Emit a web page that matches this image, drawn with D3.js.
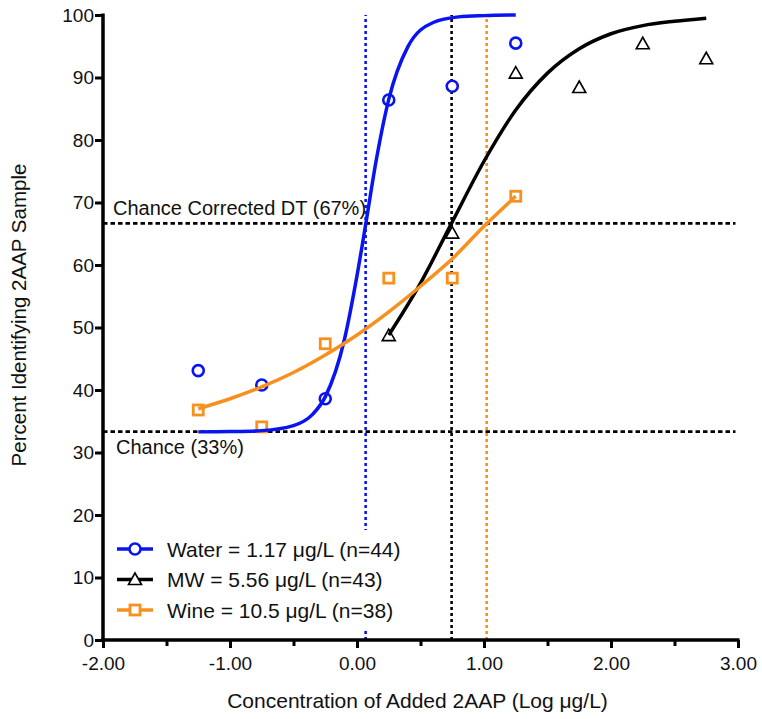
<!DOCTYPE html>
<html>
<head>
<meta charset="utf-8">
<script src="https://cdn.jsdelivr.net/npm/d3@7"></script>
<style>
  body { margin: 0; background: #fff; }
  text { font-family: Arial, "Liberation Sans", Helvetica, sans-serif; fill: #111; }
</style>
</head>
<body>
<div id="chart"></div>
<script>
// Observed points (x = log concentration, y = percent)
const doseX = [-1.25, -0.75, -0.25, 0.25, 0.75, 1.25];
const waterPct = [43.1, 40.8, 38.6, 86.4, 88.6, 95.5];
const winePct = [36.8, 34.1, 47.4, 57.9, 57.9, 71.0];
const mwX = [0.25, 0.75, 1.25, 1.75, 2.25, 2.75];
const mwPct = [48.7, 65.1, 90.7, 88.4, 95.4, 93.0];

// Fitted curves
const waterFitX = [-1.25, -1.0, -0.75, -0.5, -0.35, -0.25, -0.1, 0.0, 0.07, 0.15, 0.25, 0.4, 0.6, 0.8, 1.0, 1.25];
const waterFitY = [33.3, 33.35, 33.5, 34.3, 36.1, 38.9, 48.0, 58.3, 66.7, 76.6, 86.5, 94.9, 98.8, 99.7, 99.9, 100];
const mwFitX = [0.25, 0.5, 0.745, 1.0, 1.25, 1.5, 1.75, 2.0, 2.25, 2.5, 2.75];
const mwFitY = [48.8, 57.1, 66.7, 76.6, 84.8, 90.7, 94.6, 97.0, 98.3, 99.0, 99.5];
const wineFitX = [-1.25, -1.0, -0.75, -0.5, -0.25, 0.0, 0.25, 0.5, 0.75, 1.0, 1.25];
const wineFitY = [37.0, 38.6, 40.5, 42.8, 45.6, 48.8, 52.5, 56.6, 61.0, 66.2, 71.0];

// Threshold values (log) and chance levels
const thresholds = [0.068, 0.745, 1.021];
const chanceLevels = [33.33, 66.67];
const chanceLabels = ["Chance (33%)", "Chance Corrected DT (67%)"];

const xTicks = [-2, -1, 0, 1, 2, 3];
const xMinorTicks = [-1.5, -0.5, 0.5, 1.5, 2.5];
const yTicks = [0, 10, 20, 30, 40, 50, 60, 70, 80, 90, 100];

const seriesNames = ["Water = 1.17 μg/L (n=44)", "MW = 5.56 μg/L (n=43)", "Wine = 10.5 μg/L (n=38)"];
const seriesColors = ["#0a14f0", "#000000", "#f7901e"];
const seriesMarkers = ["circle", "triangle", "square"];

const width = 762, height = 719;
const margin = { top: 15, right: 24, bottom: 79, left: 103 };
const innerW = width - margin.left - margin.right;
const innerH = height - margin.top - margin.bottom;

const svg = d3.select("#chart").append("svg")
    .attr("width", width)
    .attr("height", height);

const g = svg.append("g")
    .attr("transform", `translate(${margin.left},${margin.top})`);

const xScale = d3.scaleLinear().domain([-2, 3]).range([0, innerW]);
const yScale = d3.scaleLinear().domain([0, 100]).range([innerH, 0]);

// Vertical threshold lines
g.selectAll(".thresh")
    .data(thresholds)
    .enter()
    .append("line")
    .attr("x1", d => xScale(d))
    .attr("x2", d => xScale(d))
    .attr("y1", yScale(0))
    .attr("y2", yScale(100))
    .attr("stroke", (d, i) => seriesColors[i])
    .attr("stroke-width", 2.6)
    .attr("stroke-dasharray", "3,3");

// Horizontal chance lines
g.selectAll(".chance")
    .data(chanceLevels)
    .enter()
    .append("line")
    .attr("x1", 0)
    .attr("x2", xScale(2.98))
    .attr("y1", d => yScale(d))
    .attr("y2", d => yScale(d))
    .attr("stroke", "#000")
    .attr("stroke-width", 2.8)
    .attr("stroke-dasharray", "4.5,3");

g.append("text")
    .attr("x", 13)
    .attr("y", yScale(chanceLevels[0]) + 22)
    .attr("font-size", 20)
    .text(chanceLabels[0]);

g.append("text")
    .attr("x", 10)
    .attr("y", yScale(chanceLevels[1]) - 8)
    .attr("font-size", 20)
    .text(chanceLabels[1]);

// Markers
function drawMarker(sel, type, color) {
    if (type === "circle") {
        sel.append("circle").attr("r", 5.5)
            .attr("fill", "#fff").attr("stroke", color).attr("stroke-width", 2.6);
    } else if (type === "square") {
        sel.append("rect").attr("x", -5).attr("y", -5)
            .attr("width", 10).attr("height", 10)
            .attr("fill", "#fff").attr("stroke", color).attr("stroke-width", 2.8);
    } else {
        sel.append("path").attr("d", "M0,-6.5L6.5,5L-6.5,5Z")
            .attr("fill", "#fff").attr("stroke", color).attr("stroke-width", 1.6);
    }
}

const pointSets = [
    d3.zip(doseX, waterPct),
    d3.zip(mwX, mwPct),
    d3.zip(doseX, winePct)
];

pointSets.forEach((pts, i) => {
    g.selectAll(`.pt${i}`)
        .data(pts)
        .enter()
        .append("g")
        .attr("transform", d => `translate(${xScale(d[0])},${yScale(d[1])})`)
        .each(function () { drawMarker(d3.select(this), seriesMarkers[i], seriesColors[i]); });
});

// Fitted curves (drawn over the markers, as in the original)
const line = d3.line()
    .x(d => xScale(d[0]))
    .y(d => yScale(d[1]))
    .curve(d3.curveMonotoneX);

const fits = [
    d3.zip(waterFitX, waterFitY),
    d3.zip(mwFitX, mwFitY),
    d3.zip(wineFitX, wineFitY)
];

g.selectAll(".fit")
    .data(fits)
    .enter()
    .append("path")
    .attr("fill", "none")
    .attr("stroke", (d, i) => seriesColors[i])
    .attr("stroke-width", 3.5)
    .attr("d", d => line(d));

// Axes
const xAxis = g.append("g")
    .attr("transform", `translate(0,${innerH})`)
    .call(d3.axisBottom(xScale).tickValues(xTicks).tickSize(8).tickSizeOuter(0));
xAxis.selectAll("text").attr("font-size", 19).attr("dy", "1.0em").text(d => d3.format(".2f")(d).replace("−", "-"));

const xMinor = g.append("g")
    .attr("transform", `translate(0,${innerH})`)
    .call(d3.axisBottom(xScale).tickValues(xMinorTicks).tickFormat("").tickSize(6).tickSizeOuter(0));
xMinor.select(".domain").remove();

const yAxis = g.append("g")
    .call(d3.axisLeft(yScale).tickValues(yTicks).tickSize(8).tickSizeOuter(0));
yAxis.selectAll("text").attr("font-size", 19).attr("x", -9);

[xAxis, xMinor, yAxis].forEach(ax => {
    ax.attr("font-family", null);
    ax.selectAll("line").attr("stroke", "#000").attr("stroke-width", 3);
    ax.selectAll(".domain").attr("stroke", "#000").attr("stroke-width", 3.5);
});
xAxis.select(".domain").attr("d", `M-2,0H${innerW + 1.5}`);
yAxis.select(".domain").attr("d", `M0,${innerH + 1.5}V-1.5`);

// Axis titles
svg.append("text")
    .attr("x", margin.left + innerW / 2 - 3)
    .attr("y", 708)
    .attr("text-anchor", "middle")
    .attr("font-size", 21)
    .text("Concentration of Added 2AAP (Log μg/L)");

svg.append("text")
    .attr("transform", `translate(26,${315}) rotate(-90)`)
    .attr("text-anchor", "middle")
    .attr("font-size", 20.5)
    .text("Percent Identifying 2AAP Sample");

// Legend
const legend = g.append("g");
legend.append("rect")
    .attr("x", 3)
    .attr("y", 515)
    .attr("width", 315)
    .attr("height", 100)
    .attr("fill", "#fff");

seriesNames.forEach((name, i) => {
    const row = legend.append("g")
        .attr("transform", `translate(0,${534 + i * 30.5})`);
    row.append("line")
        .attr("x1", 14).attr("x2", 50)
        .attr("stroke", seriesColors[i])
        .attr("stroke-width", 3.5);
    const m = row.append("g").attr("transform", "translate(32,0)");
    drawMarker(m, seriesMarkers[i], seriesColors[i]);
    row.append("text")
        .attr("x", 64)
        .attr("dy", "0.36em")
        .attr("font-size", 21)
        .text(name);
});
</script>
</body>
</html>
